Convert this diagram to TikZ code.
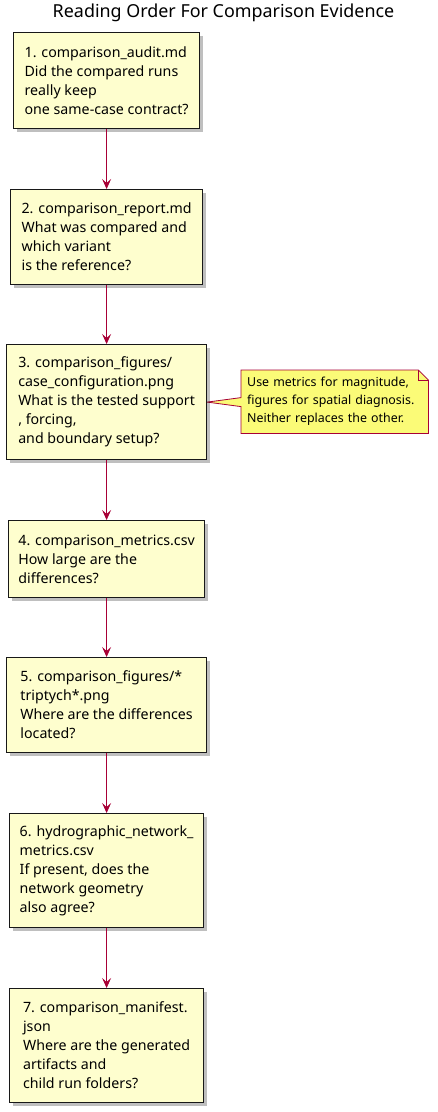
\documentclass[tikz,border=0pt]{standalone}
\usepackage{fontspec}
\setmainfont{Noto Sans}
\usetikzlibrary{arrows.meta,shadows,backgrounds}
\definecolor{boxfill}{HTML}{FEFECE}
\definecolor{arrowc}{HTML}{A80036}
\definecolor{notefill}{HTML}{FBFB77}
\definecolor{boxline}{HTML}{181818}
\tikzset{
  stepbox/.style={draw=boxline, line width=1.2pt, fill=boxfill, align=left,
    font=\fontsize{14.2}{19}\selectfont, inner sep=0pt, anchor=north west,
    drop shadow={shadow xshift=3pt, shadow yshift=-3pt, fill=black, opacity=0.25}},
  flowarrow/.style={draw=arrowc, line width=0.9pt, -{Stealth[length=10pt,width=9pt,inset=4pt]}},
  notetext/.style={align=left, font=\fontsize{12.4}{18}\selectfont, inner xsep=6pt, inner ysep=0pt,
    text width=175pt, anchor=north west, minimum height=63pt},
  noteshape/.style={draw=arrowc, line width=0.8pt, fill=notefill},
  titletext/.style={font=\fontsize{17.9}{22}\selectfont}
}
\begin{document}
\begin{tikzpicture}[x=1pt,y=-1pt]
\useasboundingbox (0,0) rectangle (438,1112);
\node[titletext] (title) at (223.5,13) {Reading Order For Comparison Evidence};

\node[stepbox, minimum width=186pt, minimum height=96pt] (b1) at (13,32)
  {1. comparison\_audit.md\\Did the compared runs\\really keep\\one same-case contract?};
\node[stepbox, minimum width=192pt, minimum height=95pt] (b2) at (10,189)
  {2. comparison\_report.md\\What was compared and\\which variant\\is the reference?};
\node[stepbox, minimum width=200pt, minimum height=115pt] (b3) at (6,344)
  {3. comparison\_figures/\\case\_configuration.png\\What is the tested support\\, forcing,\\and boundary setup?};
\node[stepbox, minimum width=196pt, minimum height=77pt] (b4) at (8,520)
  {4. comparison\_metrics.csv\\How large are the\\differences?};
\node[stepbox, minimum width=200pt, minimum height=95pt] (b5) at (6,657)
  {5. comparison\_figures/*\\triptych*.png\\Where are the differences\\located?};
\node[stepbox, minimum width=194pt, minimum height=114pt] (b6) at (9,813)
  {6. hydrographic\_network\_\\metrics.csv\\If present, does the\\network geometry\\also agree?};
\node[stepbox, minimum width=194pt, minimum height=114pt] (b7) at (9,988)
  {7. comparison\_manifest.\\json\\Where are the generated\\artifacts and\\child run folders?};

\draw[flowarrow] (b1.south) -- (b1.south |- b2.north);
\draw[flowarrow] (b2.south) -- (b2.south |- b3.north);
\draw[flowarrow] (b3.south) -- (b3.south |- b4.north);
\draw[flowarrow] (b4.south) -- (b4.south |- b5.north);
\draw[flowarrow] (b5.south) -- (b5.south |- b6.north);
\draw[flowarrow] (b6.south) -- (b6.south |- b7.north);

% note
\node[notetext] (note) at (241,370) {Use metrics for magnitude,\\figures for spatial diagnosis.\\Neither replaces the other.};
\begin{scope}[on background layer]
\fill[black, opacity=0.25, xshift=3pt, yshift=-3pt]
  (note.north west) -- ([xshift=-10pt]note.north east) -- ([yshift=-10pt]note.north east)
  -- (note.south east) -- (note.south west) -- ([yshift=-4.5pt]note.west |- b3.east)
  -- (b3.east) -- ([yshift=4.5pt]note.west |- b3.east) -- cycle;
\draw[noteshape]
  (note.north west) -- ([xshift=-10pt]note.north east) -- ([yshift=-10pt]note.north east)
  -- (note.south east) -- (note.south west) -- ([yshift=-4.5pt]note.west |- b3.east)
  -- (b3.east) -- ([yshift=4.5pt]note.west |- b3.east) -- cycle;
\draw[noteshape, fill=none]
  ([xshift=-10pt]note.north east) -- ([xshift=-10pt,yshift=-10pt]note.north east) -- ([yshift=-10pt]note.north east);
\end{scope}
\end{tikzpicture}
\end{document}
